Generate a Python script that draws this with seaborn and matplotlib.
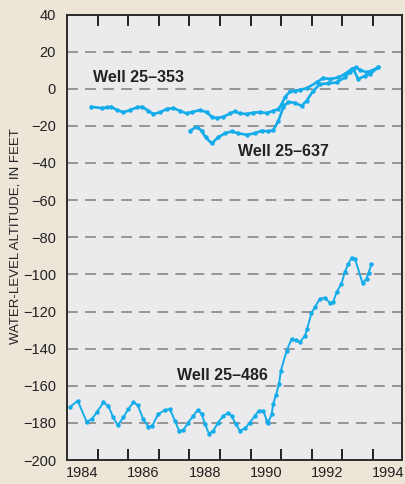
import matplotlib
matplotlib.use("Agg")
import matplotlib.pyplot as plt
import seaborn as sns
import pandas as pd

# Water-level records for three wells (decimal year, altitude in feet)
well_353_year = [1984.78, 1985.13, 1985.30, 1985.44, 1985.62, 1985.84, 1986.06, 1986.28,
                 1986.46, 1986.66, 1986.82, 1987.04, 1987.26, 1987.47, 1987.69, 1987.91,
                 1988.10, 1988.35, 1988.57, 1988.73, 1988.89, 1989.11, 1989.33, 1989.49,
                 1989.65, 1989.87, 1990.09, 1990.31, 1990.53, 1990.74, 1990.91, 1991.02,
                 1991.12, 1991.29, 1991.45, 1991.62, 1991.83, 1992.16, 1992.37, 1992.60,
                 1992.87, 1993.08, 1993.30, 1993.44, 1993.58, 1993.79, 1993.95, 1994.17]
well_353_ft = [-9.7, -10.4, -10.1, -9.7, -11.3, -12.7, -11.5, -10.1,
               -9.7, -11.9, -13.6, -12.7, -10.9, -10.4, -11.9, -13.3,
               -12.5, -11.5, -12.7, -15.1, -15.8, -15.1, -13.3, -12.2,
               -13.3, -13.6, -12.9, -12.6, -13.1, -11.9, -10.9, -8.2,
               -4.6, -1.4, -1.1, -0.5, 0.2, 3.4, 5.8, 5.2,
               6.1, 7.9, 10.6, 11.5, 10.2, 8.8, 9.7, 11.5]

well_637_year = [1988.02, 1988.24, 1988.40, 1988.53, 1988.73, 1988.94, 1989.16, 1989.38,
                 1989.60, 1989.87, 1990.14, 1990.36, 1990.58, 1990.74, 1990.91, 1991.07,
                 1991.23, 1991.45, 1991.67, 1991.83, 1992.05, 1992.27, 1992.54, 1992.81,
                 1993.08, 1993.25, 1993.36, 1993.52, 1993.74, 1993.90, 1994.17]
well_637_ft = [-22.6, -20.5, -22.6, -26.2, -29.4, -26.2, -24.0, -23.0,
               -24.0, -24.8, -24.0, -22.6, -23.0, -22.3, -17.3, -10.0,
               -7.0, -7.7, -9.2, -6.5, -1.1, 2.5, 2.9, 3.4,
               6.1, 9.2, 10.5, 5.2, 7.0, 7.9, 11.5]

well_486_year = [1984.10, 1984.35, 1984.64, 1984.81, 1984.97, 1985.19, 1985.35, 1985.51,
                 1985.66, 1985.84, 1986.00, 1986.17, 1986.31, 1986.49, 1986.66, 1986.79,
                 1986.98, 1987.20, 1987.36, 1987.53, 1987.66, 1987.80, 1987.96, 1988.13,
                 1988.27, 1988.40, 1988.51, 1988.64, 1988.78, 1988.94, 1989.11, 1989.27,
                 1989.38, 1989.51, 1989.65, 1989.82, 1989.98, 1990.14, 1990.27, 1990.42,
                 1990.53, 1990.58, 1990.69, 1990.74, 1990.83, 1990.93, 1990.99, 1991.18,
                 1991.34, 1991.48, 1991.61, 1991.78, 1991.85, 1991.99, 1992.10, 1992.27,
                 1992.43, 1992.60, 1992.70, 1992.81, 1992.97, 1993.08, 1993.19, 1993.30,
                 1993.41, 1993.66, 1993.79, 1993.86, 1993.95]
well_486_ft = [-171.4, -168.1, -179.3, -178.0, -174.4, -169.0, -170.8, -177.1,
               -181.3, -177.1, -172.6, -169.0, -170.3, -178.0, -182.0, -181.5,
               -175.3, -173.1, -172.6, -178.9, -184.2, -184.0, -179.8, -176.2,
               -173.1, -175.0, -180.7, -185.8, -184.3, -179.8, -176.2, -174.6,
               -176.2, -180.4, -184.3, -182.9, -179.8, -176.2, -173.5, -173.5,
               -178.9, -179.8, -175.3, -169.9, -165.0, -159.1, -151.9, -141.1,
               -134.8, -135.5, -136.6, -133.0, -129.3, -120.9, -117.7, -113.1,
               -112.6, -115.5, -115.0, -109.6, -105.0, -98.8, -94.6, -91.0,
               -91.5, -104.7, -102.3, -99.0, -94.6]

well_labels = ["Well 25\u2013353", "Well 25\u2013637", "Well 25\u2013486"]
year_labels = ["1984", "1986", "1988", "1990", "1992", "1994"]
y_ticks = [40, 20, 0, -20, -40, -60, -80, -100, -120, -140, -160, -180, -200]

line_color = "#14ACE9"
fig_bg = "#EDE5D8"
ax_bg = "#EBEBEE"
text_color = "#222222"

sns.set_style("white")
plt.rcParams["font.family"] = ["Liberation Sans", "DejaVu Sans"]
plt.rcParams["axes.unicode_minus"] = True

fig = plt.figure(figsize=(4.06, 4.84), dpi=100, facecolor=fig_bg)
ax = fig.add_axes([67 / 406, 24 / 484, 335 / 406, 445.5 / 484])
ax.set_facecolor(ax_bg)

# Horizontal dashed reference lines
for v in y_ticks[1:-1]:
    ax.axhline(v, color="#8E8E8E", lw=1.3, dashes=(6, 4), zorder=1)

frames = [
    pd.DataFrame({"year": well_353_year, "ft": well_353_ft}),
    pd.DataFrame({"year": well_637_year, "ft": well_637_ft}),
    pd.DataFrame({"year": well_486_year, "ft": well_486_ft}),
]
widths = [1.9, 1.9, 1.4]
for df, lw in zip(frames, widths):
    sns.lineplot(data=df, x="year", y="ft", ax=ax, color=line_color, lw=lw,
                 marker="o", markersize=3.2, markeredgewidth=0, sort=False,
                 estimator=None, legend=False, zorder=3)

ax.set_xlim(1984, 1994.95)
ax.set_ylim(-200, 40)

# Year boundaries get inward ticks; labels sit centred within the year
ax.set_xticks(range(1985, 1995))
ax.set_xticklabels([])
ax.set_xticks([int(y) + 0.5 for y in year_labels], minor=True)
ax.set_xticklabels(year_labels, minor=True)
ax.tick_params(axis="x", which="major", direction="in", length=8, width=1.4,
               color=text_color, top=True, bottom=True)
ax.tick_params(axis="x", which="minor", length=0, pad=4, labelsize=10.5,
               labelcolor=text_color)

ax.set_yticks(y_ticks)
ax.set_yticklabels([f"{v}".replace("-", "\u2212") for v in y_ticks])
ax.tick_params(axis="y", length=0, pad=8, labelsize=10.5, labelcolor=text_color)

for s in ax.spines.values():
    s.set_color("#2A2A2A")
    s.set_linewidth(1.4)
    s.set_visible(True)

ax.set_xlabel("")
ax.set_ylabel("")
fig.text(16 / 406, 1 - 236 / 484, "WATER-LEVEL ALTITUDE, IN FEET", rotation=90,
         ha="center", va="center", fontsize=9.5, color=text_color)

label_kw = dict(fontsize=11.5, fontweight="bold", color=text_color,
                va="center", ha="left")
ax.text(1984.85, 6.3, well_labels[0], **label_kw)
ax.text(1989.6, -33.6, well_labels[1], **label_kw)
ax.text(1987.6, -154.6, well_labels[2], **label_kw)

fig.savefig("out.png", dpi=100, facecolor=fig_bg)
